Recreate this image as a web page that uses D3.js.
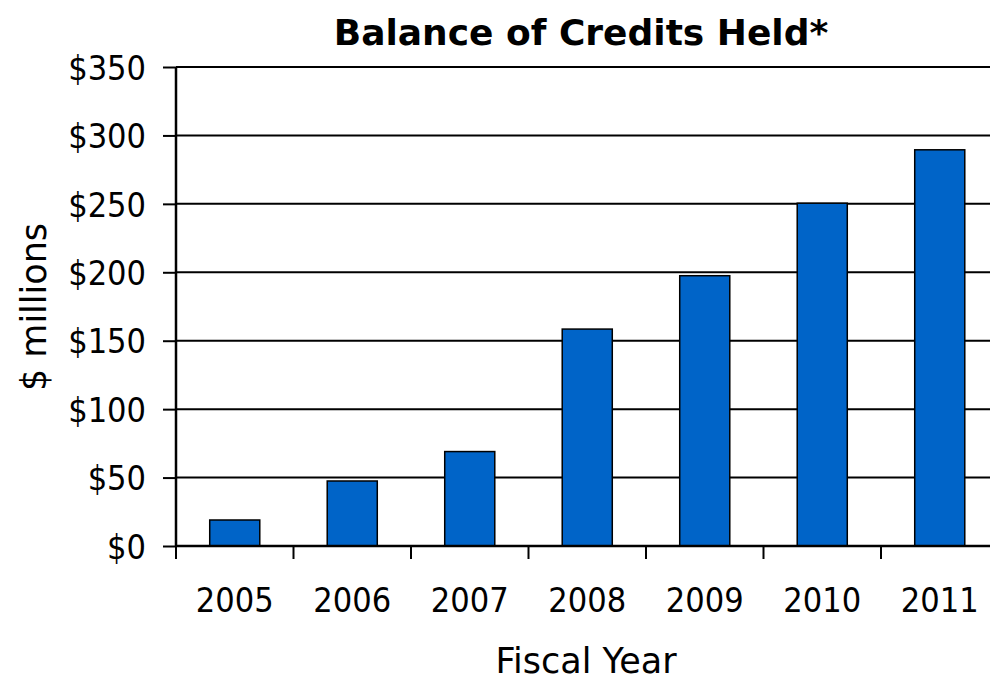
<!DOCTYPE html>
<html><head><meta charset="utf-8">
<script src="https://cdn.jsdelivr.net/npm/d3@7"></script>
<style>body{margin:0;background:#fff;overflow:hidden}svg{display:block}</style>
</head><body>
<svg id="c" width="990" height="683"></svg>
<script>
const years = ["2005","2006","2007","2008","2009","2010","2011"];
const balances = [19, 47.5, 69, 158.5, 197.5, 250.5, 289.5];
const yTicks = [0, 50, 100, 150, 200, 250, 300, 350];
const title = "Balance of Credits Held*";
const xTitle = "Fiscal Year";
const yTitle = "$ millions";

(function(){
const font = "'DejaVu Sans Condensed','DejaVu Sans',sans-serif";
const wide = "'DejaVu Sans',sans-serif";
const svg = d3.select("#c");
const pLeft = 176, pBottom = 546, pTop = 67, pRight = 998.5;

const x = d3.scaleBand().domain(years).range([pLeft, pRight]).paddingInner(0.574).paddingOuter(0.287);
const y = d3.scaleLinear().domain([0, 350]).range([pBottom, pTop]);

svg.append("g").selectAll("line").data(yTicks.filter(d => d > 0)).join("line")
  .attr("x1", pLeft).attr("x2", 990).attr("y1", d => y(d)).attr("y2", d => y(d))
  .attr("stroke", "#000").attr("stroke-width", 2);

svg.append("g").selectAll("rect").data(years).join("rect")
  .attr("x", d => x(d)).attr("width", x.bandwidth())
  .attr("y", (d, i) => y(balances[i])).attr("height", (d, i) => pBottom - y(balances[i]))
  .attr("fill", "#0064C8").attr("stroke", "#000").attr("stroke-width", 1.5);

const ya = svg.append("g").attr("transform", `translate(${pLeft},0)`)
  .call(d3.axisLeft(y).tickValues(yTicks).tickFormat(d => "$" + d).tickSize(13).tickPadding(17));
ya.select(".domain").attr("stroke-width", 2.5).attr("d", `M0,${pTop}V${pBottom}`);
ya.selectAll(".tick line").attr("stroke-width", 2);
ya.selectAll("text").attr("font-family", font).attr("font-size", 34).attr("fill", "#000").attr("dy", "0.36em");

const xa = svg.append("g").attr("transform", `translate(0,${pBottom})`)
  .call(d3.axisBottom(x).tickSize(0).tickPadding(42));
xa.select(".domain").remove();
xa.selectAll("text").attr("font-family", font).attr("font-size", 34).attr("fill", "#000");
const bounds = years.map(d => x(d) - x.step() * x.paddingInner() / 2).concat([pRight]);
svg.append("g").selectAll("line").data(bounds).join("line")
  .attr("x1", d => d).attr("x2", d => d).attr("y1", pBottom).attr("y2", pBottom + 13)
  .attr("stroke", "#000").attr("stroke-width", 2);
svg.append("line").attr("x1", pLeft).attr("x2", 990).attr("y1", pBottom).attr("y2", pBottom)
  .attr("stroke", "#000").attr("stroke-width", 2.5);

svg.append("text").attr("x", 581).attr("y", 45).attr("text-anchor", "middle")
  .attr("font-family", wide).attr("font-weight", "bold").attr("font-size", 36).text(title);
svg.append("text").attr("x", 586).attr("y", 673).attr("text-anchor", "middle")
  .attr("font-family", wide).attr("font-size", 35).text(xTitle);
svg.append("text").attr("transform", "translate(46,307) rotate(-90)").attr("text-anchor", "middle")
  .attr("font-family", wide).attr("font-size", 35).text(yTitle);
})();
</script>
</body></html>
